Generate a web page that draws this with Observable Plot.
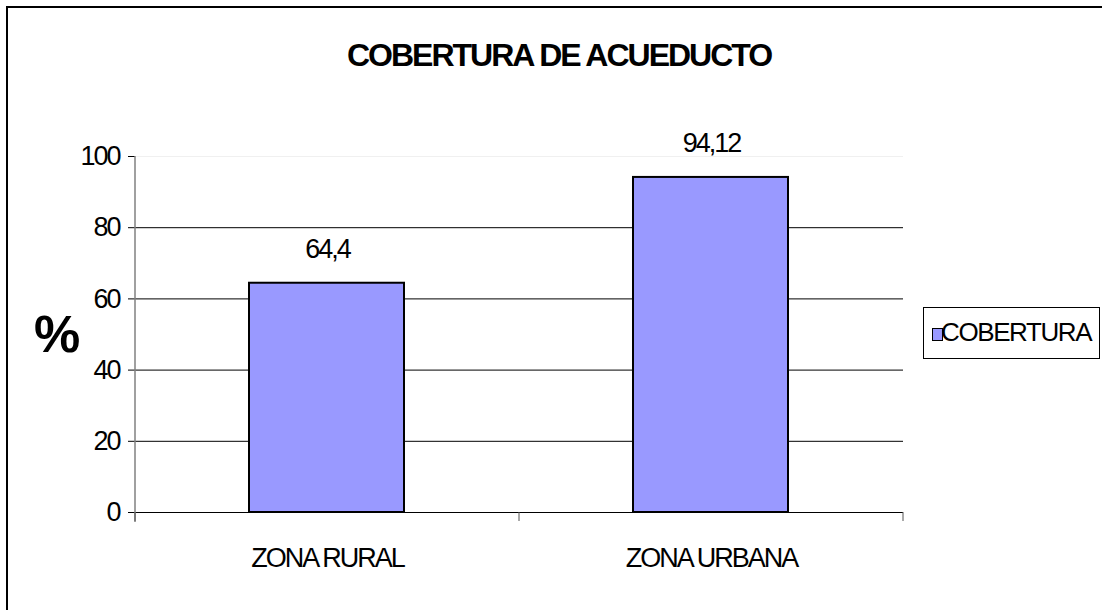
<!DOCTYPE html>
<html>
<head>
<meta charset="utf-8">
<script src="https://cdn.jsdelivr.net/npm/d3@7"></script>
<script src="https://cdn.jsdelivr.net/npm/@observablehq/plot@0.6"></script>
<style>
  html, body { margin: 0; padding: 0; background: #fff; }
  #wrap { position: relative; width: 1102px; height: 610px; overflow: hidden; background: #fff;
          font-family: 'Liberation Sans', Arial, sans-serif; color: #000; }
  #frame { position: absolute; left: 6px; top: 6px; width: 1200px; height: 800px; border: 2px solid #000; box-sizing: border-box; }
  #chart { position: absolute; left: 0; top: 0; }
  #title { position: absolute; left: 347px; top: 39px; font-size: 32px; line-height: 1; font-weight: bold;
           letter-spacing: -2px; white-space: nowrap; }
  #ylab { position: absolute; left: 34px; top: 308px; font-size: 52px;
          line-height: 1; font-weight: bold; white-space: nowrap; }
  #legend { position: absolute; left: 923px; top: 307px; width: 177px; height: 52px; border: 1px solid #000;
            box-sizing: border-box; background: #fff; }
  #legend .sw { position: absolute; left: 8px; top: 20px; width: 11px; height: 13px; border: 1.5px solid #000; box-sizing: border-box; }
  #legend .lt { position: absolute; left: 17px; top: 11px; font-size: 26px; line-height: 1; letter-spacing: -1.4px; white-space: nowrap; }
</style>
</head>
<body>
<div id="wrap">
  <div id="frame"></div>
  <div id="chart"></div>
  <div id="title"></div>
  <div id="ylab"></div>
  <div id="legend"><div class="sw"></div><div class="lt"></div></div>
</div>
<script>
const categories = ["ZONA RURAL", "ZONA URBANA"];
const values = [64.4, 94.12];
const valueLabels = ["64,4", "94,12"];
const yTicks = [0, 20, 40, 60, 80, 100];
const seriesName = "COBERTURA";
const titleText = "COBERTURA DE ACUEDUCTO";
const yLabel = "%";
const barColor = "#9999FF";

const data = categories.map((c, i) => ({cat: c, value: values[i], label: valueLabels[i]}));

document.getElementById("title").textContent = titleText;
document.getElementById("ylab").textContent = yLabel;
document.querySelector("#legend .lt").textContent = seriesName;
document.querySelector("#legend .sw").style.background = barColor;

const chart = Plot.plot({
  width: 1102,
  height: 610,
  marginLeft: 135,
  marginRight: 199,
  marginTop: 156,
  marginBottom: 98,
  x: {domain: categories, padding: 0},
  y: {domain: [0, 100]},
  style: {fontFamily: "'Liberation Sans', Arial, sans-serif", fontSize: "27px", letterSpacing: "-2px", background: "transparent", color: "#000"},
  marks: [
    Plot.ruleY(yTicks.filter(t => t > 0 && t < 100), {stroke: "#000"}),
    Plot.ruleY(yTicks.filter(t => t === 100), {stroke: "#f0f0f0"}),
    Plot.barY(data, {x: "cat", y: "value", fill: barColor, stroke: "#000", strokeWidth: 2, insetLeft: 114, insetRight: 115}),
    Plot.ruleY([0], {stroke: "#000"}),
    Plot.text(data, {x: "cat", y: "value", text: "label", dy: -34, fontSize: 27}),
    Plot.axisY({ticks: yTicks, tickSize: 7, tickPadding: 9, label: null, tickFormat: d => String(d)}),
    Plot.axisX({tickSize: 0, tickPadding: 35, label: null})
  ]
});
document.getElementById("chart").appendChild(chart);

// axis line and band-edge ticks drawn from the scales
const xs = chart.scale("x"), ys = chart.scale("y");
const svg = d3.select(chart);
const y0 = ys.apply(0), y100 = ys.apply(100);
const left = xs.range[0];
svg.append("line").attr("x1", left).attr("x2", left).attr("y1", y100).attr("y2", y0 + 10)
  .attr("stroke", "#808080").attr("stroke-width", 1.5);
const edges = categories.map(c => xs.apply(c)).concat([xs.apply(categories[categories.length - 1]) + xs.bandwidth]);
edges.forEach(e => {
  svg.append("line").attr("x1", e).attr("x2", e).attr("y1", y0).attr("y2", y0 + 9)
    .attr("stroke", "#555").attr("stroke-width", 1);
});
</script>
</body>
</html>
